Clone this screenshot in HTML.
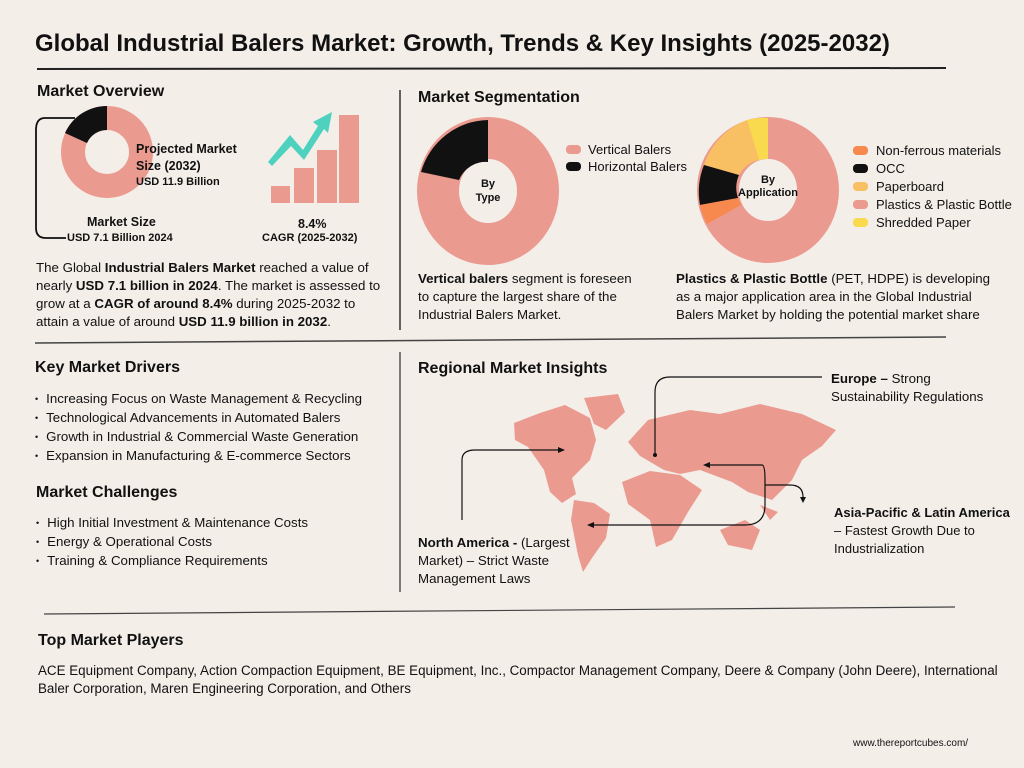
<!DOCTYPE html>
<html><head><meta charset="utf-8"><style>
body{margin:0;width:1024px;height:768px;background:#f4eee9;font-family:"Liberation Sans",sans-serif;color:#111;position:relative;overflow:hidden}
.a{position:absolute;white-space:nowrap}
.h{font-weight:bold;font-size:16px}
.t{font-size:13.3px;line-height:18px}
.s{font-size:12px;font-weight:bold}
ul{margin:0;padding:0;list-style:none}
li{font-size:13.3px;line-height:18px}
li:before{content:"•";font-size:9px;margin-right:8px;position:relative;top:-1px}
</style></head><body>
<div class="a" style="left:35px;top:30px;font-size:24px;font-weight:bold">Global Industrial Balers Market: Growth, Trends &amp; Key Insights (2025-2032)</div>
<svg class="a" style="left:0;top:0" width="1024" height="768">
<line x1="37" y1="69" x2="946" y2="68" stroke="#222" stroke-width="2"/>
<line x1="400" y1="90" x2="400" y2="330" stroke="#333" stroke-width="1.5"/>
<line x1="35" y1="343" x2="946" y2="337" stroke="#444" stroke-width="1.5"/>
<line x1="400" y1="352" x2="400" y2="592" stroke="#555" stroke-width="1.5"/>
<line x1="44" y1="614" x2="955" y2="607" stroke="#444" stroke-width="1.2"/>
<circle cx="107" cy="152" r="34" fill="none" stroke="#eb9a90" stroke-width="24"/>
<path d="M107,106 A46,46 0 0 0 65,133 L87,143 A22,22 0 0 1 107,130 Z" fill="#111"/>
<path d="M75,118 L45,118 Q36,118 36,130 L36,228 Q36,238 46,238 L66,238" fill="none" stroke="#111" stroke-width="1.8"/>
<rect x="271" y="186" width="19" height="17" fill="#eb9a90"/>
<rect x="294" y="168" width="20" height="35" fill="#eb9a90"/>
<rect x="317" y="150" width="20" height="53" fill="#eb9a90"/>
<rect x="339" y="115" width="20" height="88" fill="#eb9a90"/>
<path d="M268,162 L290,135 L303,150 L318,126 L313,122 L332,112 L328,133 L324,129 L304,160 L291,146 L272,166 Z" fill="#4fd1c0"/>
<ellipse cx="488" cy="191" rx="50" ry="53" fill="none" stroke="#eb9a90" stroke-width="42"/>
<path d="M488,120 L488,162 A29,31 0 0 0 459,180 L421,172 A71,72 0 0 1 488,120 Z" fill="#111"/>
<ellipse cx="768" cy="190" rx="50" ry="52" fill="none" stroke="#eb9a90" stroke-width="42"/>
<path d="M768,118 L768,159 A30,31 0 0 0 759,160 L747,120 A71,72 0 0 1 768,118 Z" fill="#f9da4f"/>
<path d="M747,120 L759,160 A30,31 0 0 0 739,175 L704,165 A71,72 0 0 1 747,120 Z" fill="#f9bf63"/>
<path d="M704,165 L739,175 A30,31 0 0 0 738,198 L700,205 A71,72 0 0 1 704,165 Z" fill="#111"/>
<path d="M700,205 L738,198 A30,31 0 0 0 741,205 L707,224 A71,72 0 0 1 700,205 Z" fill="#f7884e"/>
<rect x="566" y="145" width="15" height="9" rx="4" fill="#eb9a90"/>
<rect x="566" y="162" width="15" height="9" rx="4" fill="#111"/>
<rect x="853" y="146" width="15" height="9" rx="4" fill="#f7884e"/>
<rect x="853" y="164" width="15" height="9" rx="4" fill="#111"/>
<rect x="853" y="182" width="15" height="9" rx="4" fill="#f9bf63"/>
<rect x="853" y="200" width="15" height="9" rx="4" fill="#eb9a90"/>
<rect x="853" y="218" width="15" height="9" rx="4" fill="#f9da4f"/>
<g fill="#eb9a90">
<path d="M514,423 L540,413 L565,405 L590,418 L596,440 L590,460 L572,478 L576,494 L562,503 L550,492 L544,470 L528,447 L515,440 Z"/>
<path d="M584,398 L618,394 L625,412 L606,430 L594,424 Z"/>
<path d="M574,500 L594,503 L610,514 L606,538 L592,558 L583,572 L578,555 L571,520 Z"/>
<path d="M628,442 L648,420 L690,410 L720,414 L760,404 L802,414 L836,430 L822,446 L802,460 L792,480 L772,500 L748,492 L732,482 L716,476 L700,470 L680,474 L664,470 L640,456 Z"/>
<path d="M622,482 L650,471 L680,475 L702,490 L688,512 L672,540 L656,547 L650,520 L628,504 Z"/>
<path d="M720,530 L745,520 L760,530 L752,550 L728,545 Z"/>
<path d="M760,505 L778,512 L770,520 Z"/>
</g>
<g fill="none" stroke="#111" stroke-width="1.2">
<path d="M822,377 L670,377 Q655,377 655,392 L655,455"/>
<path d="M462,520 L462,460 Q462,450 475,450 L558,450"/>
<path d="M710,465 L762,465 Q765,465 765,480 L765,505 Q765,525 745,525 L594,525"/>
<path d="M765,485 L790,485 Q803,485 803,497"/>
</g>
<circle cx="655" cy="455" r="2" fill="#111"/>
<path d="M558,447 L565,450 L558,453 Z M710,462 L703,465 L710,468 Z M594,522 L587,525 L594,528 Z M800,497 L803,503 L806,497 Z" fill="#111"/>
</svg>
<div class="a h" style="left:37px;top:83px">Market Overview</div>
<div class="a s" style="left:136px;top:141px;font-size:12.5px;line-height:17px">Projected Market<br>Size (2032)</div>
<div class="a s" style="left:136px;top:176px;font-size:11px">USD 11.9 Billion</div>
<div class="a s" style="left:87px;top:215px;font-size:12.5px">Market Size</div>
<div class="a s" style="left:67px;top:232px;font-size:11px">USD 7.1 Billion 2024</div>
<div class="a s" style="left:298px;top:217px;font-size:12.5px">8.4%</div>
<div class="a s" style="left:262px;top:232px;font-size:11px">CAGR (2025-2032)</div>
<div class="a t" style="left:36px;top:259px">The Global <b>Industrial Balers Market</b> reached a value of<br>nearly <b>USD 7.1 billion in 2024</b>. The market is assessed to<br>grow at a <b>CAGR of around 8.4%</b> during 2025-2032 to<br>attain a value of around <b>USD 11.9 billion in 2032</b>.</div>
<div class="a h" style="left:418px;top:89px">Market Segmentation</div>
<div class="a" style="left:470px;top:177px;font-size:11px;font-weight:bold;text-align:center;width:36px;line-height:14px">By<br>Type</div>
<div class="a" style="left:733px;top:174px;font-size:11px;font-weight:bold;text-align:center;width:70px;line-height:13px">By<br>Application</div>
<div class="a t" style="left:588px;top:141px;line-height:17px;font-size:13px">Vertical Balers<br>Horizontal Balers</div>
<div class="a t" style="left:876px;top:142px;font-size:13px">Non-ferrous materials<br>OCC<br>Paperboard<br>Plastics &amp; Plastic Bottle<br>Shredded Paper</div>
<div class="a t" style="left:418px;top:270px"><b>Vertical balers</b> segment is foreseen<br>to capture the largest share of the<br>Industrial Balers Market.</div>
<div class="a t" style="left:676px;top:270px"><b>Plastics &amp; Plastic Bottle</b> (PET, HDPE) is developing<br>as a major application area in the Global Industrial<br>Balers Market by holding the potential market share</div>
<div class="a h" style="left:35px;top:359px">Key Market Drivers</div>
<ul class="a" style="left:35px;top:390px"><li>Increasing Focus on Waste Management &amp; Recycling</li><li>Technological Advancements in Automated Balers</li><li>Growth in Industrial &amp; Commercial Waste Generation</li><li>Expansion in Manufacturing &amp; E-commerce Sectors</li></ul>
<div class="a h" style="left:36px;top:484px">Market Challenges</div>
<ul class="a" style="left:36px;top:514px"><li>High Initial Investment &amp; Maintenance Costs</li><li>Energy &amp; Operational Costs</li><li>Training &amp; Compliance Requirements</li></ul>
<div class="a h" style="left:418px;top:360px">Regional Market Insights</div>
<div class="a t" style="left:831px;top:370px"><b>Europe –</b> Strong<br>Sustainability Regulations</div>
<div class="a t" style="left:834px;top:504px;font-size:13px"><b>Asia-Pacific &amp; Latin America</b><br>– Fastest Growth Due to<br>Industrialization</div>
<div class="a t" style="left:418px;top:534px"><b>North America -</b> (Largest<br>Market) – Strict Waste<br>Management Laws</div>
<div class="a h" style="left:38px;top:632px">Top Market Players</div>
<div class="a t" style="left:38px;top:662px;font-size:13.4px">ACE Equipment Company, Action Compaction Equipment, BE Equipment, Inc., Compactor Management Company, Deere &amp; Company (John Deere), International<br>Baler Corporation, Maren Engineering Corporation, and Others</div>
<div class="a" style="left:853px;top:738px;font-size:10px">www.thereportcubes.com/</div>
</body></html>
